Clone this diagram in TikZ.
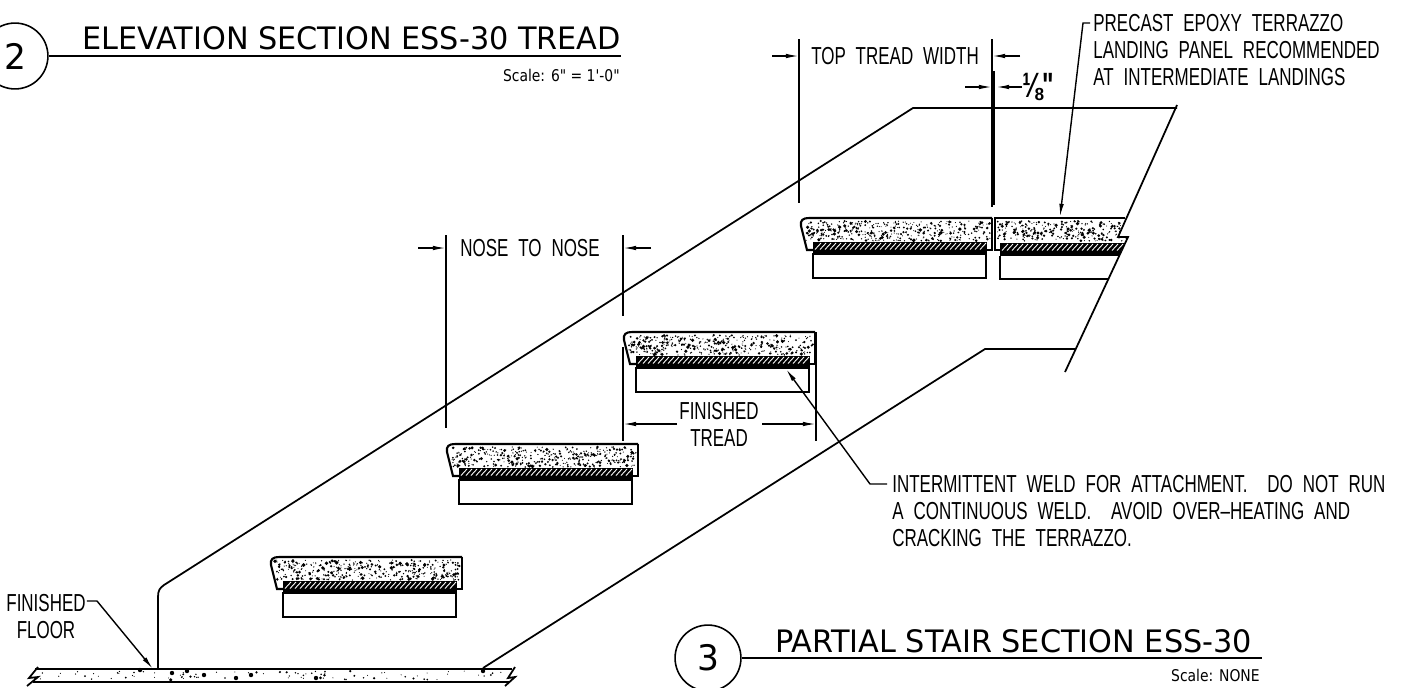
\documentclass[tikz,border=0pt]{standalone}
\usepackage{fontspec}
\usetikzlibrary{calc,arrows.meta}
\setmainfont{Liberation Sans}
\newfontfamily\cadfont[FakeStretch=0.69,WordSpace=2.1]{Liberation Sans}
\newfontfamily\titlefont[FakeStretch=0.98]{DejaVu Sans}
\newfontfamily\scalefont[FakeStretch=0.86]{DejaVu Sans}
\tikzset{
  obj/.style={line width=1pt},
  dim/.style={line width=0.8pt},
  cadtext/.style={inner sep=0pt,align=left,font=\cadfont\fontsize{14}{15.4}\selectfont},
  titletext/.style={inner sep=0pt,anchor=base west,font=\titlefont\fontsize{17.6}{20}\selectfont},
  scaletext/.style={inner sep=0pt,anchor=east,font=\scalefont\fontsize{9.2}{11}\selectfont},
  bubble/.style={circle,draw,line width=0.9pt,inner sep=0pt,minimum size=37.5pt,font=\titlefont\fontsize{20}{22}\selectfont},
}
\begin{document}
\begin{tikzpicture}[x=0.02cm,y=-0.02cm,>={Latex[length=7.5pt,width=2.6pt]}]
\useasboundingbox (0,0) rectangle (1405,687);
\pgfmathsetseed{11}
%title 2
\node[bubble] (bub2) at (15,56) {2};
\node[titletext] (title2) at (82,49) {ELEVATION SECTION ESS-30 TREAD};
\coordinate (rule2) at (621,56);
\draw[line width=1.1pt] (bub2) -- (rule2);
\node[scaletext] (scale2) at (620,75) {Scale: 6" = 1'-0"};
%title 3
\node[bubble] (bub3) at (708,658) {3};
\node[titletext] (title3) at (775,652) {PARTIAL STAIR SECTION ESS-30};
\coordinate (rule3) at (1262,658);
\draw[line width=1.1pt] (bub3) -- (rule3);
\node[scaletext] (scale3) at (1260,675) {Scale: NONE};
%stringer lines
\coordinate (up0) at (158,669);
\coordinate (up1) at (158,597);
\coordinate (up2) at (913,108);
\coordinate (up3) at (1177,108);
\coordinate (low0) at (483,668);
\coordinate (low1) at (985,349);
\coordinate (low2) at (1076,349);
\coordinate (brk0) at (1177,105);
\coordinate (brk1) at (1118,237);
\coordinate (brk2) at (1128,237);
\coordinate (brk3) at (1065,372);
\draw[obj] (up0) -- (up1) .. controls (158,590) and (160,588) .. (164,585) -- (up2) -- (up3);
\draw[obj] (low0) -- (low1) -- (low2);
\draw[obj] (brk0) -- (brk1) -- (brk2) -- (brk3);
%floor slab
\draw[obj] (35,669) -- (512,669);
\draw[obj] (33,682) -- (510,682);
\draw[obj] (38,667) -- (29,678) -- (38,677) -- (27,686);
\draw[obj] (515,667) -- (508,678) -- (515,677) -- (505,686);
\foreach \i in {1,...,85}
{\pgfmathsetmacro\px{40+rnd*465}
\pgfmathsetmacro\py{671+rnd*9}
\pgfmathsetmacro\pr{0.5+rnd*rnd*1.3}
\fill (\px,\py) circle (\pr);}
\foreach \sx/\sy in {140/670,172/673,187/671,204/675,236/678,251/675,316/678,483/671}
\fill (\sx,\sy) circle (2.2);
%treads
\foreach \tx/\ty in {0/0,176/-113,353/-225,530/-339}
{\begin{scope}[shift={(\tx,\ty)}]
\foreach \i in {1,...,400}
{\pgfmathsetmacro\px{275+rnd*185}
\pgfmathsetmacro\py{560+rnd*20}
\pgfmathsetmacro\pr{0.5+rnd*rnd*1.5}
\fill (\px,\py) circle (\pr);}
\fill (283,581) rectangle (457,593);
\foreach \h in {285,290,...,450}
\draw[white,line width=0.5pt] (\h,588.5) -- (\h+6,582);
\draw[line width=1.2pt] (462,557) -- (279,557) .. controls (273,557) and (270,559) .. (271,565) -- (277,589) -- (283,589);
\draw[obj] (462,557) -- (462,589) -- (457,589);
\draw[obj] (283,593) rectangle (456,617);
\end{scope}}
%landing panel
\begin{scope}
\clip (995,218) -- (1125,218) -- (1118,237) -- (1128,237) -- (1119,256) -- (995,256) -- cycle;
\foreach \i in {1,...,280}
{\pgfmathsetmacro\px{997+rnd*130}
\pgfmathsetmacro\py{221+rnd*20}
\pgfmathsetmacro\pr{0.5+rnd*rnd*1.5}
\fill (\px,\py) circle (\pr);}
\fill (1000,243) rectangle (1130,256);
\foreach \h in {1002,1007,...,1125}
\draw[white,line width=0.5pt] (\h,250.5) -- (\h+6,244);
\end{scope}
\draw[line width=1.2pt] (1125,218) -- (995,218) -- (995,250) -- (1000,250);
\draw[obj] (1000,256) -- (1000,279) -- (1109,279);
%nose to nose
\node[cadtext,anchor=center] (nose) at (530,248) {NOSE TO NOSE};
\coordinate (noseL) at (446,235);
\coordinate (noseLb) at (446,428);
\coordinate (noseR) at (623,235);
\coordinate (noseRb) at (623,316);
\draw[dim] (noseL) -- (noseLb);
\draw[dim] (noseR) -- (noseRb);
\coordinate (noseLa) at (418,248);
\coordinate (noseLt) at (446,248);
\coordinate (noseRa) at (651,248);
\coordinate (noseRt) at (623,248);
\draw[dim,->] (noseLa) -- (noseLt);
\draw[dim,->] (noseRa) -- (noseRt);
%finished tread
\node[cadtext,align=center,anchor=center] (fintread) at (719,424) {FINISHED\\TREAD};
\coordinate (finL) at (623,347);
\coordinate (finLb) at (623,441);
\coordinate (finR) at (816,332);
\coordinate (finRb) at (816,441);
\draw[dim] (finL) -- (finLb);
\draw[dim] (finR) -- (finRb);
\coordinate (finLt) at (623,424);
\coordinate (finRt) at (816,424);
\coordinate (finLa) at (677,424);
\coordinate (finRa) at (762,424);
\draw[dim,->] (finLa) -- (finLt);
\draw[dim,->] (finRa) -- (finRt);
%top tread width
\node[cadtext,anchor=center] (toptread) at (895,56) {TOP TREAD WIDTH};
\coordinate (topL) at (799,39);
\coordinate (topLb) at (799,203);
\coordinate (topR) at (992,39);
\coordinate (topRb) at (992,207);
\draw[dim] (topL) -- (topLb);
\draw[dim] (topR) -- (topRb);
\coordinate (barT) at (994,71);
\coordinate (barB) at (994,205);
\draw[line width=1.6pt] (barT) -- (barB);
\coordinate (topLa) at (772,56);
\coordinate (topLt) at (799,56);
\coordinate (topRa) at (1020,56);
\coordinate (topRt) at (992,56);
\draw[dim,->] (topLa) -- (topLt);
\draw[dim,->] (topRa) -- (topRt);
%joint
\node[cadtext,anchor=west,font=\cadfont\fontsize{20}{20}\bfseries\selectfont] (gap) at (1022,87) {⅛"};
\coordinate (gapLa) at (965,87);
\coordinate (gapL) at (992,87);
\coordinate (gapR) at (996,87);
\draw[dim,->] (gapLa) -- (gapL);
\draw[dim,->] (gap.west) -- (gapR);
%notes
\node[cadtext,anchor=north west] (precast) at (1093,14) {PRECAST EPOXY TERRAZZO\\LANDING PANEL RECOMMENDED\\AT INTERMEDIATE LANDINGS};
\coordinate (precastA) at (1083,23);
\coordinate (precastT) at (1060,217);
\draw[dim,->] ($(precast.north west)+(-3,9)$) -- (precastA) -- (precastT);
\node[cadtext,anchor=north west] (weld) at (892,475) {INTERMITTENT WELD FOR ATTACHMENT. \ DO NOT RUN\\A CONTINUOUS WELD. \ AVOID OVER–HEATING AND\\CRACKING THE TERRAZZO.};
\coordinate (weldE) at (870,484);
\coordinate (weldT) at (786,369);
\draw[dim,->] ($(weld.north west)+(-5,9)$) -- (weldE) -- (weldT);
\node[cadtext,align=center,anchor=north] (finfloor) at (46,594) {FINISHED\\FLOOR};
\coordinate (floorE) at (97,601);
\coordinate (floorT) at (153,669);
\draw[dim,->] ($(finfloor.north east)+(1,7)$) -- (floorE) -- (floorT);
\end{tikzpicture}
\end{document}
